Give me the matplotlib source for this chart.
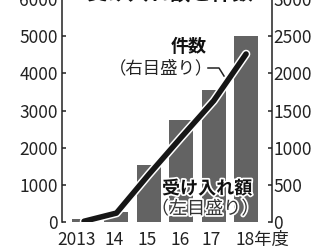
import matplotlib
matplotlib.use("Agg")
import matplotlib.pyplot as plt
import matplotlib.patheffects as pe
from matplotlib.lines import Line2D

plt.rcParams['font.family'] = ['Noto Sans CJK JP', 'DejaVu Sans']

years = ["2013", "14", "15", "16", "17", "18年度"]
amount = [80, 275, 1530, 2750, 3540, 5010]      # 受け入れ額 (left axis)
count = [10, 120, 640, 1140, 1630, 2260]        # 件数 (right axis)
left_ticks = [0, 1000, 2000, 3000, 4000, 5000, 6000]
right_ticks = [0, 500, 1000, 1500, 2000, 2500, 3000]
title = "受け入れ額と件数"

W, H = 313, 252
fig = plt.figure(figsize=(W / 100, H / 100), dpi=100)
fig.patch.set_facecolor("white")

def fx(px):
    return px / W

def fy(py):
    return 1 - py / H

ax = fig.add_axes([fx(62), 30 / H, 210 / W, 223 / H])
ax2 = ax.twinx()

x = list(range(len(years)))
ax.bar(x, amount, width=0.74, color="#636363", zorder=2)
ax2.plot(x, count, color="#161616", lw=4.0, solid_capstyle="round",
         solid_joinstyle="round",
         path_effects=[pe.withStroke(linewidth=6.2, foreground="white")], zorder=3)

ax.set_xlim(-0.68, 5.80)
ax.set_ylim(0, 6000)
ax2.set_ylim(0, 3000)

spine_col = "#222222"
for a in (ax, ax2):
    for s in ("top", "bottom"):
        a.spines[s].set_visible(False)
    for s in ("left", "right"):
        a.spines[s].set_color(spine_col)
        a.spines[s].set_linewidth(1.1)
ax.spines["right"].set_visible(False)
ax2.spines["left"].set_visible(False)

ax.set_yticks(left_ticks)
ax.set_yticklabels([str(v) for v in left_ticks])
ax2.set_yticks(right_ticks)
ax2.set_yticklabels([str(v) for v in right_ticks])
ax.tick_params(axis="y", direction="in", length=3, width=1.1, color=spine_col,
               labelsize=12.5, pad=3, labelcolor="#222222")
ax2.tick_params(axis="y", direction="in", length=3, width=1.1, color=spine_col,
                labelsize=12.5, pad=1, labelcolor="#222222")
ax.set_xticks(x)
ax.set_xticklabels([])
ax.tick_params(axis="x", length=0)

# x labels
offsets = [-7, -2, -2, -1, -2, -11]
for i, (lab, dx) in enumerate(zip(years, offsets)):
    ha = "left" if i == len(years) - 1 else "center"
    ax.annotate(lab, xy=(i, 0), xycoords=("data", "axes fraction"),
                xytext=(dx, -18), textcoords="offset pixels",
                ha=ha, va="center", fontsize=12.5, color="#222222",
                annotation_clip=False)

# title (cut at top)
fig.text(fx(170), fy(-6), title, ha="center", va="center", fontsize=15,
         fontweight="bold", color="#111111")

halo = [pe.withStroke(linewidth=2.5, foreground="white")]
fig.text(fx(189), fy(47), "件数", ha="center", va="center", fontsize=13,
         fontweight="bold", color="#111111")
fig.text(fx(161), fy(68), "（右目盛り）", ha="center", va="center", fontsize=12.5,
         color="#222222")
fig.add_artist(Line2D([fx(208), fx(219), fx(224)], [fy(68), fy(68), fy(76)],
                      color="#222222", lw=1.1, transform=fig.transFigure))

fig.text(fx(207), fy(188.5), "受け入れ額", ha="center", va="center", fontsize=13,
         fontweight="bold", color="#111111", path_effects=halo, zorder=5)
fig.text(fx(205), fy(209), "（左目盛り）", ha="center", va="center", fontsize=13,
         color="#333333", path_effects=halo, zorder=5)

fig.savefig("out.png", dpi=100, facecolor="white")
